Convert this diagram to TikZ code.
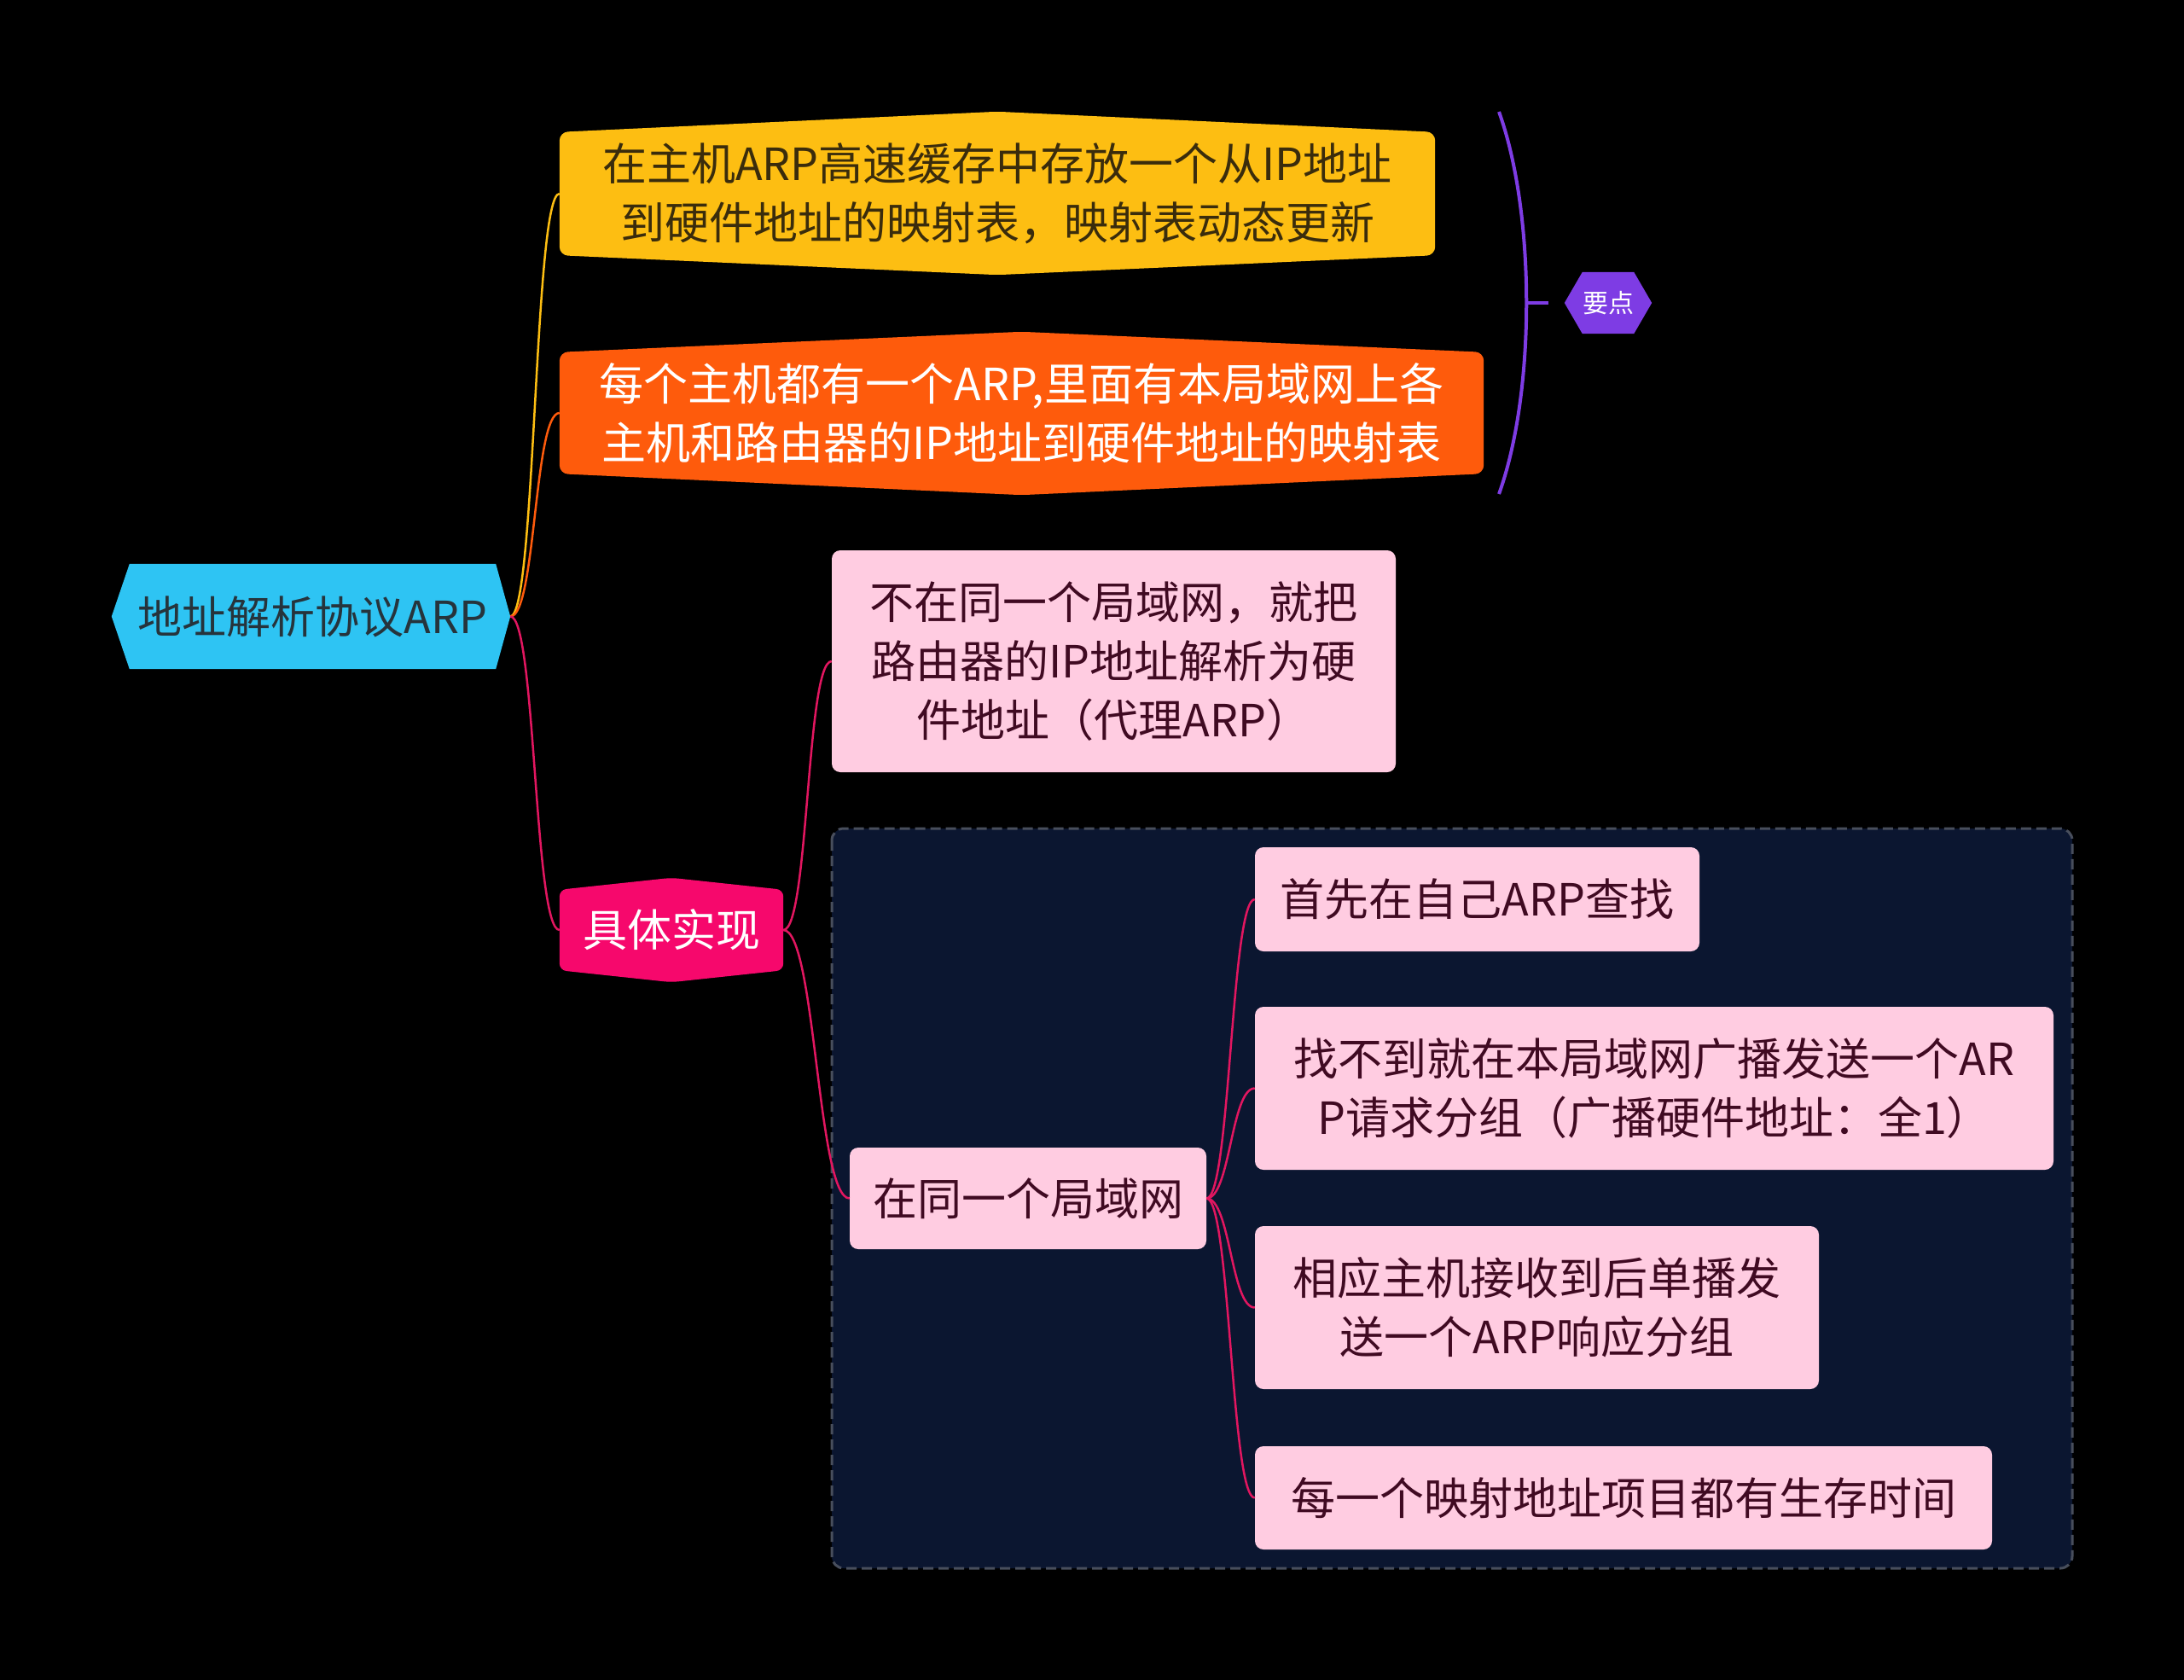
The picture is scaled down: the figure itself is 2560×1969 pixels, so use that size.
\documentclass[tikz,border=0pt]{standalone}
\usepackage{fontspec}
\setmainfont{Noto Sans CJK SC}
\usepackage{tikz}
\usetikzlibrary{calc,positioning,backgrounds}
\usepackage{xcolor}
\definecolor{mycyan}{RGB}{46,196,243}
\definecolor{myyellow}{RGB}{253,190,18}
\definecolor{myorange}{RGB}{254,91,12}
\definecolor{mymagenta}{RGB}{246,8,108}
\definecolor{mypurple}{RGB}{126,60,228}
\definecolor{mypink}{RGB}{255,204,225}
\definecolor{mynavy}{RGB}{11,22,48}
\definecolor{mydark}{RGB}{38,52,60}
\definecolor{mybrown}{RGB}{58,44,12}
\definecolor{mymaroon}{RGB}{64,10,34}
\definecolor{myline}{RGB}{226,22,96}
\definecolor{myframe}{RGB}{72,78,92}

\tikzset{
  topic/.style={inner sep=0pt, align=center, font=\fontsize{52}{69}\selectfont},
  leaf/.style={topic, fill=mypink, rounded corners=10pt, text=mymaroon},
  link/.style={line width=2.5pt},
}

\begin{document}
\begin{tikzpicture}[x=1pt,y=-1pt]
  \useasboundingbox (0,0) rectangle (2560,1969);
  % frame round the same-network group
  \draw[fill=mynavy, draw=myframe, line width=3pt, dash pattern=on 12pt off 6pt, rounded corners=14pt] (975,971) rectangle (2429,1838);

  \node[topic, minimum width=429pt, minimum height=123pt, text=mydark] (arp) at (366.5,722.5) {地址解析协议ARP};
  \node[topic, minimum width=1026pt, minimum height=144pt, text=mybrown] (cache) at (1169,227) {在主机ARP高速缓存中存放一个从IP地址\\到硬件地址的映射表，映射表动态更新};
  \node[topic, minimum width=1083pt, minimum height=142pt, text=white] (table) at (1197.5,484) {每个主机都有一个ARP,里面有本局域网上各\\主机和路由器的IP地址到硬件地址的映射表};
  \node[topic, minimum width=52pt, minimum height=72pt, text=white, font=\fontsize{30}{36}\selectfont] (key) at (1885,355) {要点};
  \node[topic, minimum width=262pt, minimum height=94pt, text=white] (impl) at (787,1090) {具体实现};
  \node[leaf, minimum width=661pt, minimum height=260pt] (proxy) at (1305.5,775) {不在同一个局域网，就把\\路由器的IP地址解析为硬\\件地址（代理ARP）};
  \node[leaf, minimum width=418pt, minimum height=119pt] (same) at (1205,1404.5) {在同一个局域网};
  \node[leaf, minimum width=521pt, minimum height=122pt] (look) at (1731.5,1054) {首先在自己ARP查找};
  \node[leaf, minimum width=936pt, minimum height=191pt] (bcast) at (1939,1275.5) {找不到就在本局域网广播发送一个AR\\P请求分组（广播硬件地址：全1）};
  \node[leaf, minimum width=661pt, minimum height=191pt] (reply) at (1801.5,1532.5) {相应主机接收到后单播发\\送一个ARP响应分组};
  \node[leaf, minimum width=864pt, minimum height=121pt] (ttl) at (1903,1755.5) {每一个映射地址项目都有生存时间};

  % shapes behind the topics
  \begin{pgfonlayer}{background}
    \fill[black] (0,0) rectangle (2560,1969);
    \fill[mycyan] (arp.north west) -- (arp.north east) -- ([xshift=17pt]arp.east) -- (arp.south east) -- (arp.south west) -- ([xshift=-21pt]arp.west) -- cycle;
    \fill[myyellow, rounded corners=10pt] (cache.north west) -- ([yshift=24pt]cache.north) -- (cache.north east) -- (cache.south east) -- ([yshift=-23pt]cache.south) -- (cache.south west) -- cycle;
    \fill[myorange, rounded corners=10pt] (table.north west) -- ([yshift=24pt]table.north) -- (table.north east) -- (table.south east) -- ([yshift=-25pt]table.south) -- (table.south west) -- cycle;
    \fill[mymagenta, rounded corners=8pt] (impl.north west) -- ([yshift=14pt]impl.north) -- (impl.north east) -- (impl.south east) -- ([yshift=-14pt]impl.south) -- (impl.south west) -- cycle;
    \fill[mypurple] (key.north west) -- (key.north east) -- ([xshift=21pt]key.east) -- (key.south east) -- (key.south west) -- ([xshift=-21pt]key.west) -- cycle;
  \end{pgfonlayer}

  % summary brace
  \coordinate (btop) at (1757,131);
  \coordinate (bbot) at (1757,579);
  \coordinate (bmid) at (1789,355);
  \draw[mypurple, line width=4pt] (btop) .. controls (1800,250) and (1800,460) .. (bbot);
  \draw[mypurple, line width=4pt] (bmid) -- ([xshift=-40pt]key.west);

  % connectors
  \draw[link, myyellow] ([xshift=17pt]arp.east) .. controls +(30,0) and +(-30,0) .. (cache.west);
  \draw[link, myorange] ([xshift=17pt]arp.east) .. controls +(30,0) and +(-30,0) .. (table.west);
  \draw[link, myline] ([xshift=17pt]arp.east) .. controls +(30,0) and +(-30,0) .. (impl.west);
  \draw[link, myline] (impl.east) .. controls +(30,0) and +(-30,0) .. (proxy.west);
  \draw[link, myline] (impl.east) .. controls +(38,0) and +(-38,0) .. (same.west);
  \foreach \n in {look,bcast,reply,ttl}
    \draw[link, myline] (same.east) .. controls +(28,0) and +(-28,0) .. (\n.west);
\end{tikzpicture}
\end{document}
